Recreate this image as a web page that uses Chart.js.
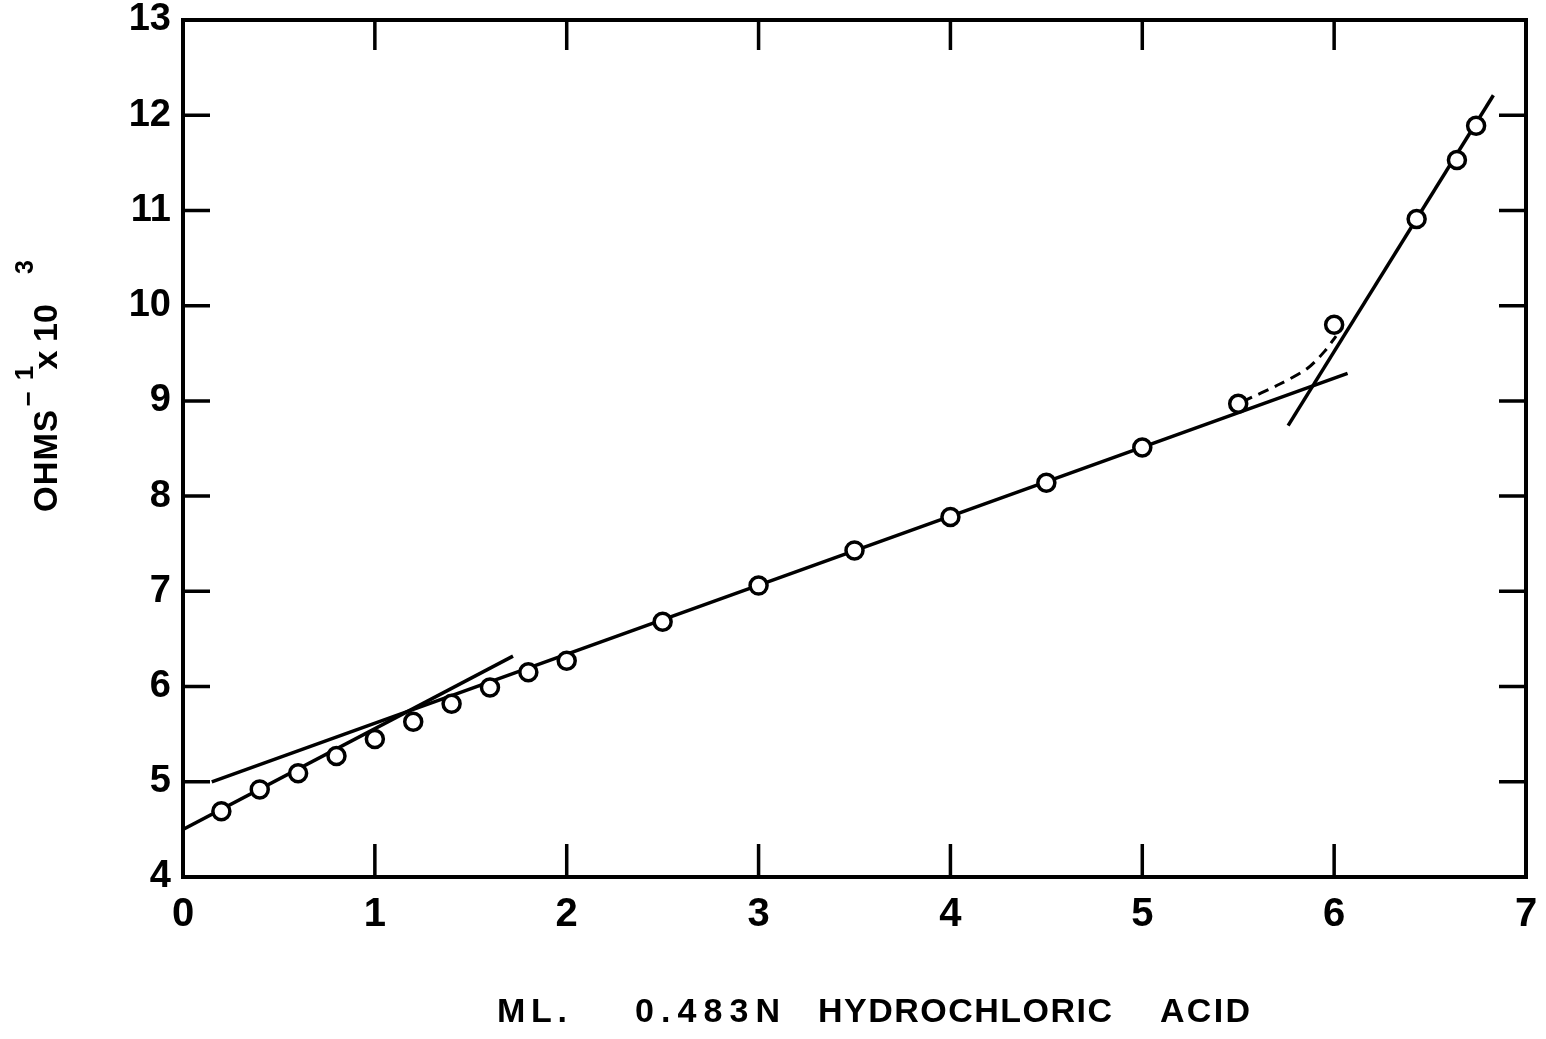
<!DOCTYPE html>
<html>
<head>
<meta charset="utf-8">
<script src="https://cdn.jsdelivr.net/npm/chart.js@4/dist/chart.umd.min.js"></script>
<style>
html,body{margin:0;padding:0;background:#fff;}
canvas{display:block;}
</style>
</head>
<body>
<canvas id="c" width="1546" height="1039"></canvas>
<script>
// ---- data ----
const xTicks = [0, 1, 2, 3, 4, 5, 6, 7];
const yTicks = [4, 5, 6, 7, 8, 9, 10, 11, 12, 13];

const mlHCl = [0.2, 0.4, 0.6, 0.8, 1.0, 1.2, 1.4, 1.6, 1.8, 2.0, 2.5, 3.0, 3.5, 4.0, 4.5, 5.0, 5.5, 6.0, 6.43, 6.64, 6.74];
const conductance = [4.69, 4.92, 5.09, 5.27, 5.45, 5.63, 5.82, 5.99, 6.15, 6.27, 6.68, 7.06, 7.43, 7.78, 8.14, 8.51, 8.97, 9.80, 10.91, 11.53, 11.89];

// fitted straight lines (end points)
const initialX = [0, 1.72];     const initialY = [4.5, 6.32];
const mainX = [0.15, 6.07];     const mainY = [5.0, 9.29];
const steepX = [5.76, 6.83];    const steepY = [8.74, 12.21];
// dashed curve between 5.5 and 6.0 ml
const dashX = [5.52, 5.72, 5.86, 5.95, 6.01];
const dashY = [8.99, 9.18, 9.34, 9.52, 9.68];

const xTitleParts = ['ML.', '0.483N', 'HYDROCHLORIC', 'ACID'];

const pairs = (xs, ys) => xs.map((x, i) => ({x: x, y: ys[i]}));
const FAMILY = '"Liberation Sans", Arial, sans-serif';

function lineDs(xs, ys, extra) {
  return Object.assign({
    type: 'line', data: pairs(xs, ys), showLine: true,
    borderColor: '#000', borderWidth: 3.5, pointRadius: 0, fill: false,
    tension: 0, order: 2
  }, extra || {});
}

const framePlugin = {
  id: 'frame',
  afterDatasetsDraw(chart) {
    const ctx = chart.ctx, a = chart.chartArea;
    const xs = chart.scales.x, ys = chart.scales.y;
    ctx.save();
    ctx.strokeStyle = '#000';
    ctx.lineWidth = 4;
    ctx.lineCap = 'square';
    ctx.strokeRect(a.left, a.top, a.right - a.left, a.bottom - a.top);
    ctx.lineCap = 'butt';
    ctx.lineWidth = 3.5;
    ctx.beginPath();
    xTicks.forEach(v => {
      if (v === xTicks[0] || v === xTicks[xTicks.length - 1]) return;
      const p = xs.getPixelForValue(v);
      ctx.moveTo(p, a.bottom); ctx.lineTo(p, a.bottom - 33);
      ctx.moveTo(p, a.top); ctx.lineTo(p, a.top + 30);
    });
    yTicks.forEach(v => {
      if (v === yTicks[0] || v === yTicks[yTicks.length - 1]) return;
      const p = ys.getPixelForValue(v);
      ctx.moveTo(a.left, p); ctx.lineTo(a.left + 27, p);
      ctx.moveTo(a.right, p); ctx.lineTo(a.right - 27, p);
    });
    ctx.stroke();
    ctx.restore();
  },
  afterDraw(chart) {
    const ctx = chart.ctx;
    ctx.save();
    ctx.fillStyle = '#000';
    ctx.textBaseline = 'alphabetic';
    // x-axis title: each word stretched to its span in the reference
    ctx.textAlign = 'left';
    ctx.font = 'bold 34px ' + FAMILY;
    const spans = [[497, 567], [635, 780], [818, 1112], [1160, 1250]];
    xTitleParts.forEach((t, i) => {
      try { ctx.letterSpacing = '0px'; } catch (e) {}
      const w = ctx.measureText(t).width;
      const target = spans[i][1] - spans[i][0];
      const ls = Math.max(0, (target - w) / Math.max(1, t.length - 1));
      try { ctx.letterSpacing = ls.toFixed(2) + 'px'; } catch (e) {}
      ctx.fillText(t, spans[i][0], 1022);
    });
    try { ctx.letterSpacing = '0px'; } catch (e) {}
    // y-axis title, rotated, with superscripts
    ctx.translate(57, 512);
    ctx.rotate(-Math.PI / 2);
    ctx.textAlign = 'left';
    ctx.font = 'bold 33px ' + FAMILY;
    try { ctx.letterSpacing = '1px'; } catch (e) {}
    ctx.fillText('OHMS', 0, 0);
    try { ctx.letterSpacing = '0px'; } catch (e) {}
    ctx.textAlign = 'center';
    ctx.font = 'bold 26px ' + FAMILY;
    ctx.fillText('\u2212', 113, -20);
    ctx.fillText('1', 139, -24);
    ctx.font = 'bold 34px ' + FAMILY;
    ctx.fillText('x', 152, 0);
    ctx.font = 'bold 34px ' + FAMILY;
    ctx.fillText('10', 189, 0);
    ctx.font = 'bold 25px ' + FAMILY;
    ctx.fillText('3', 245, -24);
    ctx.restore();
  }
};

new Chart(document.getElementById('c'), {
  type: 'scatter',
  data: {
    datasets: [
      {
        label: 'data', data: pairs(mlHCl, conductance),
        pointStyle: 'circle', pointRadius: 8.5, pointBorderWidth: 3.5,
        pointBackgroundColor: '#fff', pointBorderColor: '#000',
        showLine: false, order: 0
      },
      lineDs(initialX, initialY),
      lineDs(mainX, mainY),
      lineDs(steepX, steepY),
      lineDs(dashX, dashY, {borderDash: [11, 7], tension: 0.3, borderWidth: 3})
    ]
  },
  options: {
    responsive: false,
    devicePixelRatio: 1,
    animation: false,
    layout: {padding: {left: 0, top: 20, right: 20, bottom: 0}},
    plugins: {legend: {display: false}, tooltip: {enabled: false}},
    scales: {
      x: {
        type: 'linear', min: 0, max: 7,
        afterBuildTicks: s => { s.ticks = xTicks.map(v => ({value: v})); },
        afterFit: s => { s.height = 162; s.paddingLeft = 0; s.paddingRight = 0; },
        grid: {display: false, drawTicks: false},
        border: {display: false},
        ticks: {font: {size: 40, family: FAMILY, weight: 'bold'}, color: '#000', padding: 14, maxRotation: 0, autoSkip: false}
      },
      y: {
        type: 'linear', min: 4, max: 13,
        afterBuildTicks: s => { s.ticks = yTicks.map(v => ({value: v})); },
        afterFit: s => { s.width = 183; s.paddingTop = 0; s.paddingBottom = 0; },
        grid: {display: false, drawTicks: false},
        border: {display: false},
        ticks: {font: {size: 38, family: FAMILY, weight: 'bold'}, color: '#000', padding: 12, autoSkip: false}
      }
    }
  },
  plugins: [framePlugin]
});
</script>
</body>
</html>
